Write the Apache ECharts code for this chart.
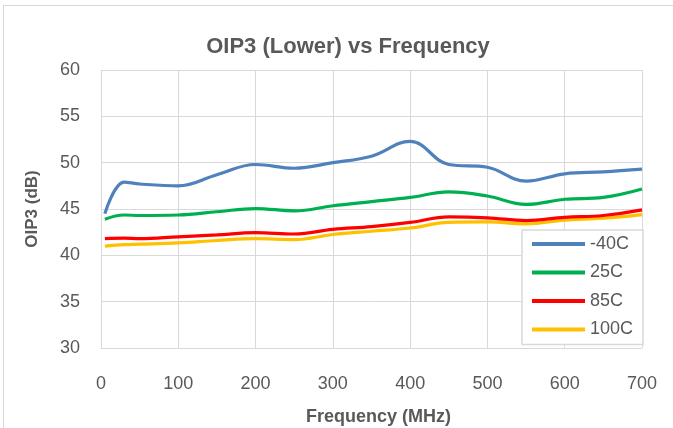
<!DOCTYPE html>
<html>
<head>
<meta charset="utf-8">
<script src="https://cdn.jsdelivr.net/npm/echarts@6/dist/echarts.min.js"></script>
<style>
  html, body { margin: 0; padding: 0; background: #fff; overflow: hidden; }
  #frame { position: absolute; left: 3px; top: 5px; width: 700px; height: 440px; border: 1px solid #d9d9d9; box-sizing: border-box; }
  #chart { position: absolute; left: 0; top: 0; width: 673px; height: 428px; }
</style>
</head>
<body>
<div id="frame"></div>
<div id="chart"></div>
<script>
// Frequency points (MHz)
const freq = [5, 30, 50, 100, 150, 200, 250, 300, 350, 400, 450, 500, 550, 600, 650, 700];

// OIP3 (dB) per temperature
const oipM40 = [44.5, 47.9, 47.7, 47.5, 48.7, 49.8, 49.4, 50.0, 50.7, 52.3, 49.8, 49.5, 48.0, 48.8, 49.0, 49.3];
const oip25  = [43.9, 44.35, 44.3, 44.35, 44.7, 45.05, 44.8, 45.35, 45.8, 46.25, 46.85, 46.4, 45.5, 46.05, 46.25, 47.15];
const oip85  = [41.8, 41.85, 41.8, 42.0, 42.2, 42.45, 42.3, 42.8, 43.1, 43.55, 44.15, 44.05, 43.75, 44.1, 44.3, 44.9];
const oip100 = [41.0, 41.15, 41.2, 41.35, 41.6, 41.8, 41.7, 42.25, 42.6, 42.95, 43.55, 43.6, 43.4, 43.8, 44.0, 44.4];

const seriesNames = ['-40C', '25C', '85C', '100C'];
const seriesColors = ['#4F81BD', '#00B050', '#FF0000', '#FFC000'];
const seriesValues = [oipM40, oip25, oip85, oip100];

const textColor = '#595959';
const gridColor = '#d9d9d9';
const font = 'Liberation Sans, Arial, sans-serif';

const chart = echarts.init(document.getElementById('chart'));
chart.setOption({
  animation: false,
  backgroundColor: 'transparent',
  title: {
    text: 'OIP3 (Lower) vs Frequency',
    left: 343,
    textAlign: 'center',
    top: 31,
    textStyle: { fontFamily: font, fontSize: 22, fontWeight: 'bold', color: textColor }
  },
  grid: { left: 101, right: 31, top: 70, bottom: 80, containLabel: false, outerBoundsMode: 'none' },
  xAxis: {
    type: 'value',
    min: 0, max: 700, interval: 100,
    name: 'Frequency (MHz)',
    nameLocation: 'middle',
    nameGap: 60,
    nameTextStyle: { fontFamily: font, fontSize: 18, fontWeight: 'bold', color: textColor, padding: [0, 0, 0, 14] },
    axisLine: { lineStyle: { color: gridColor, width: 1 } },
    axisTick: { show: false },
    axisLabel: { fontFamily: font, fontSize: 18, color: textColor, margin: 27 },
    splitLine: { show: true, lineStyle: { color: gridColor, width: 1 } }
  },
  yAxis: {
    type: 'value',
    min: 30, max: 60, interval: 5,
    name: 'OIP3 (dB)',
    nameLocation: 'middle',
    nameGap: 60,
    nameRotate: 90,
    nameTextStyle: { fontFamily: font, fontSize: 17, fontWeight: 'bold', color: textColor },
    axisLine: { show: true, lineStyle: { color: gridColor, width: 1 } },
    axisTick: { show: false },
    axisLabel: { fontFamily: font, fontSize: 18, color: textColor, margin: 21 },
    splitLine: { show: true, lineStyle: { color: gridColor, width: 1 } }
  },
  legend: {
    orient: 'vertical',
    left: 522,
    top: 230,
    padding: [5, 10, 6, 10],
    icon: 'rect',
    itemWidth: 53,
    itemHeight: 4,
    itemGap: 10.5,
    backgroundColor: '#ffffff',
    borderColor: gridColor,
    borderWidth: 1.5,
    textStyle: { fontFamily: font, fontSize: 18, color: textColor, lineHeight: 18 },
    data: seriesNames
  },
  series: seriesNames.map((name, i) => ({
    name: name,
    type: 'line',
    smooth: 0.4,
    symbol: 'none',
    z: 2 + (seriesNames.length - i),
    lineStyle: { color: seriesColors[i], width: 3.2 },
    itemStyle: { color: seriesColors[i] },
    data: freq.map((f, k) => [f, seriesValues[i][k]])
  }))
});
</script>
</body>
</html>
